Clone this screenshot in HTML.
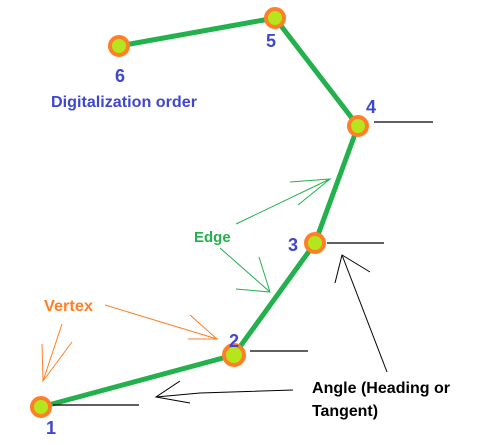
<!DOCTYPE html>
<html><head><meta charset="utf-8"><style>
html,body{margin:0;padding:0;background:#fff;}
svg{display:block;}
text{font-family:"Liberation Sans","DejaVu Sans",sans-serif;font-weight:bold;}
</style></head><body>
<svg width="485" height="445" viewBox="0 0 485 445" xmlns="http://www.w3.org/2000/svg">
<polyline points="41,407 234,355 315,243 358,126 275,18 119,46" fill="none" stroke="#22b14c" stroke-width="5" stroke-linejoin="round"/>
<g stroke="#000" stroke-width="1.3">
<line x1="374" y1="122" x2="433" y2="122"/>
<line x1="327" y1="243" x2="384" y2="243"/>
<line x1="250" y1="351" x2="308" y2="351"/>
<line x1="53" y1="405" x2="139" y2="405"/>
</g>
<g fill="#b5e61d" stroke="#ff7f27" stroke-width="4">
<circle cx="41" cy="407" r="9"/>
<circle cx="234" cy="355" r="10"/>
<circle cx="315" cy="243" r="9"/>
<circle cx="358" cy="126" r="9"/>
<circle cx="275" cy="18" r="9"/>
<circle cx="119" cy="46" r="9"/>
</g>
<g fill="none" stroke="#22b14c" stroke-width="1">
<polyline points="236,224 330,179"/><polyline points="290,182 330,179 298,205"/>
<polyline points="220,248 270,292"/><polyline points="259,257 270,292 236,289"/>
</g>
<g fill="none" stroke="#ff7f27" stroke-width="1">
<polyline points="105,305 217,339"/><polyline points="190,315 217,339 188,339"/>
<polyline points="62,324 43,381"/><polyline points="42,344 43,381 72,342"/>
</g>
<g fill="none" stroke="#000" stroke-width="1">
<polyline points="293,390 200,393 156,397"/><polyline points="180,381 156,397 190,403"/>
<polyline points="387,372 342,255"/><polyline points="335,283 342,255 370,272"/>
</g>
<g fill="#3f48cc" font-size="18">
<text x="120" y="82" text-anchor="middle">6</text>
<text x="271" y="47" text-anchor="middle">5</text>
<text x="371" y="113" text-anchor="middle">4</text>
<text x="293" y="251" text-anchor="middle">3</text>
<text x="234" y="347" text-anchor="middle">2</text>
<text x="51" y="434" text-anchor="middle">1</text>
<text x="51" y="107" font-size="16" textLength="146" lengthAdjust="spacingAndGlyphs">Digitalization order</text>
</g>
<text x="194" y="242" font-size="15" fill="#22b14c">Edge</text>
<text x="44" y="311" font-size="16" fill="#ff7f27" textLength="49" lengthAdjust="spacingAndGlyphs">Vertex</text>
<text x="312" y="393" font-size="16" fill="#000" textLength="138" lengthAdjust="spacingAndGlyphs">Angle (Heading or</text>
<text x="312" y="416" font-size="16" fill="#000" textLength="66" lengthAdjust="spacingAndGlyphs">Tangent)</text>
</svg>
</body></html>
